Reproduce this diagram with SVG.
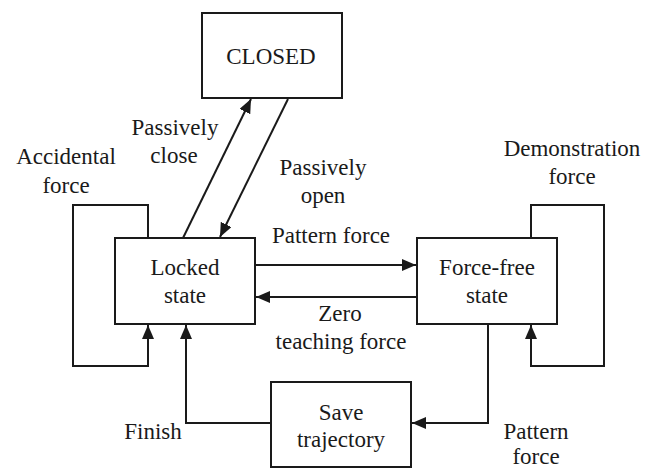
<svg xmlns="http://www.w3.org/2000/svg" width="657" height="469" viewBox="0 0 657 469">
<style>
.box{fill:#fff;stroke:#1a1a1a;stroke-width:2}
.ln{fill:none;stroke:#1a1a1a;stroke-width:2}
text{font-family:"Times New Roman","Liberation Serif","DejaVu Serif",serif;font-size:23px;fill:#1a1a1a;text-anchor:middle}
</style>
<defs>
<marker id="ah" viewBox="0 0 14 12" refX="14" refY="6" markerWidth="14" markerHeight="12" markerUnits="userSpaceOnUse" orient="auto">
<path d="M0,0 L14,6 L0,12 Z" fill="#1a1a1a"/>
</marker>
</defs>
<g id="connectors">
<line class="ln" x1="183" y1="238" x2="251" y2="99" marker-end="url(#ah)"/>
<line class="ln" x1="288" y1="99" x2="220" y2="237" marker-end="url(#ah)"/>
<line class="ln" x1="255" y1="265" x2="416" y2="265" marker-end="url(#ah)"/>
<line class="ln" x1="417" y1="297" x2="256" y2="297" marker-end="url(#ah)"/>
<polyline class="ln" points="148,238 148,205 73,205 73,366 148,366 148,325" marker-end="url(#ah)"/>
<polyline class="ln" points="531,238 531,205 604,205 604,366 531,366 531,325" marker-end="url(#ah)"/>
<polyline class="ln" points="488,324 488,423 412,423" marker-end="url(#ah)"/>
<polyline class="ln" points="271,423 186,423 186,325" marker-end="url(#ah)"/>
<text x="175" y="135">Passively</text>
<text x="174" y="163">close</text>
<text x="66" y="164">Accidental</text>
<text x="66" y="193">force</text>
<text x="323" y="175">Passively</text>
<text x="323" y="203">open</text>
<text x="572" y="156">Demonstration</text>
<text x="572" y="184">force</text>
<text x="331" y="243">Pattern force</text>
<text x="340" y="321">Zero</text>
<text x="341" y="349">teaching force</text>
<text x="153" y="439">Finish</text>
<text x="536" y="439">Pattern</text>
<text x="536" y="464">force</text>
</g>
<g id="closed">
<rect class="box" x="202" y="13" width="140" height="85"/>
<text x="271" y="64">CLOSED</text>
</g>
<g id="locked">
<rect class="box" x="115" y="238" width="140" height="86"/>
<text x="185" y="275">Locked</text>
<text x="185" y="303">state</text>
</g>
<g id="forcefree">
<rect class="box" x="417" y="238" width="140" height="86"/>
<text x="487" y="275">Force-free</text>
<text x="487" y="303">state</text>
</g>
<g id="save">
<rect class="box" x="271" y="382" width="140" height="85"/>
<text x="341" y="420">Save</text>
<text x="341" y="447">trajectory</text>
</g>
</svg>
